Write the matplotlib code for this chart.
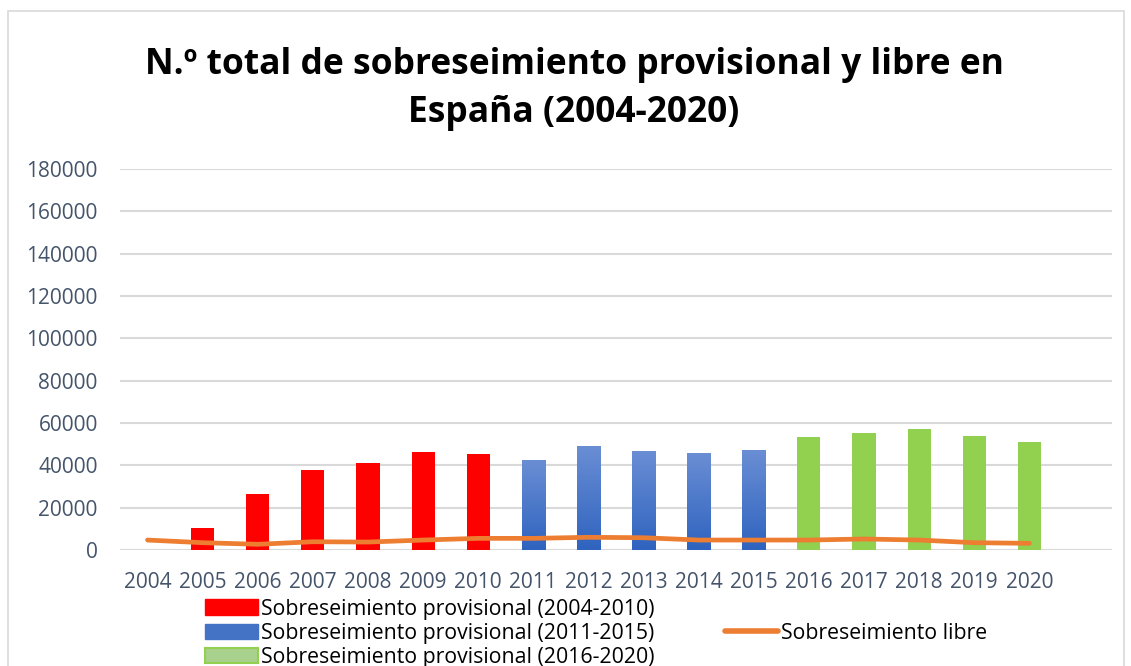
import matplotlib
matplotlib.use("Agg")
import matplotlib.pyplot as plt
import numpy as np
from matplotlib.patches import Patch, Rectangle
from matplotlib.lines import Line2D
from matplotlib.colors import LinearSegmentedColormap

years = [str(y) for y in range(2004, 2021)]
prov_2004_2010 = [0, 10400, 26400, 37700, 41000, 46200, 45300]
prov_2011_2015 = [42500, 49000, 46700, 45700, 47200]
prov_2016_2020 = [53300, 55200, 57100, 53800, 50900]
libre = [4700, 3450, 2700, 3900, 3750, 4700, 5500, 5500, 6000, 5800, 4700, 4700, 4700, 5200, 4700, 3450, 3150]

title_txt = "N.º total de sobreseimiento provisional y libre en\nEspaña (2004-2020)"
lab_red = "Sobreseimiento provisional (2004-2010)"
lab_blue = "Sobreseimiento provisional (2011-2015)"
lab_green = "Sobreseimiento provisional (2016-2020)"
lab_line = "Sobreseimiento libre"

plt.rcParams['font.family'] = ['Open Sans', 'DejaVu Sans']

W, H = 1131, 666
fig = plt.figure(figsize=(W / 100, H / 100), dpi=100)

# chart border
fig.patches.append(Rectangle((8 / W, -0.1), (1124 - 8) / W, (H - 11) / H + 0.1,
                             transform=fig.transFigure, fill=False,
                             edgecolor='#d9d9d9', lw=1.2))

ax = fig.add_axes([120 / W, (H - 550) / H, (1112 - 120) / W, (550 - 169) / H])

x = np.arange(len(years))
bw = 0.42
n1, n2 = len(prov_2004_2010), len(prov_2011_2015)
xr = x[:n1]
xb = x[n1:n1 + n2]
xg = x[n1 + n2:]

ax.bar(xr, prov_2004_2010, width=bw, color='#ff0000', zorder=2)
# blue gradient bars
cmap = LinearSegmentedColormap.from_list('bl', ['#2f63bf', '#6a8ed4'])
grad = np.linspace(0, 1, 256).reshape(-1, 1)
for xi, v in zip(xb, prov_2011_2015):
    ax.imshow(grad, cmap=cmap, origin='lower', aspect='auto',
              extent=(xi - bw / 2, xi + bw / 2, 0, v), zorder=2)
ax.bar(xg, prov_2016_2020, width=bw, color='#92d050', zorder=2)
ax.plot(x, libre, color='#ed7d31', lw=3.4, solid_capstyle='round', zorder=3)

ax.set_xlim(-0.5, len(years) + 0.5)
ax.set_ylim(0, 180000)
ax.set_yticks(np.arange(0, 180001, 20000))
ax.set_yticklabels([str(v) for v in range(0, 180001, 20000)])
ax.set_xticks(x)
ax.set_xticklabels(years)
ax.grid(axis='y', color='#d9d9d9', lw=1.5, zorder=0)
ax.set_axisbelow(True)
for s in ax.spines.values():
    s.set_visible(False)
ax.tick_params(length=0, labelsize=15, colors='#44546a')
ax.tick_params(axis='x', pad=16)
ax.tick_params(axis='y', pad=16)

fig.text(574 / W, 1 - 89 / H, title_txt, ha='center', va='center',
         fontsize=25.5, fontweight='bold', color='black', linespacing=1.45)

h_red = Patch(facecolor='#ff0000', edgecolor='#ff0000')
h_blue = Patch(facecolor='#4472c4', edgecolor='#4472c4')
h_green = Patch(facecolor='#a9d18e', edgecolor='#92d050', lw=1.5)
h_line = Line2D([], [], color='#ed7d31', lw=4, solid_capstyle='round')
h_empty = Patch(alpha=0)
leg = fig.legend([h_red, h_blue, h_green, h_empty, h_line, h_empty],
                 [lab_red, lab_blue, lab_green, '', lab_line, ''],
                 ncol=2, loc='upper left', bbox_to_anchor=(194 / W, 1 - 588 / H),
                 frameon=False, fontsize=15.3, handlelength=2.5, handleheight=0.75,
                 handletextpad=0.15, columnspacing=3.3, labelspacing=0.15,
                 borderpad=0)
for t in leg.get_texts():
    t.set_color('black')

fig.savefig('out.png', dpi=100)
